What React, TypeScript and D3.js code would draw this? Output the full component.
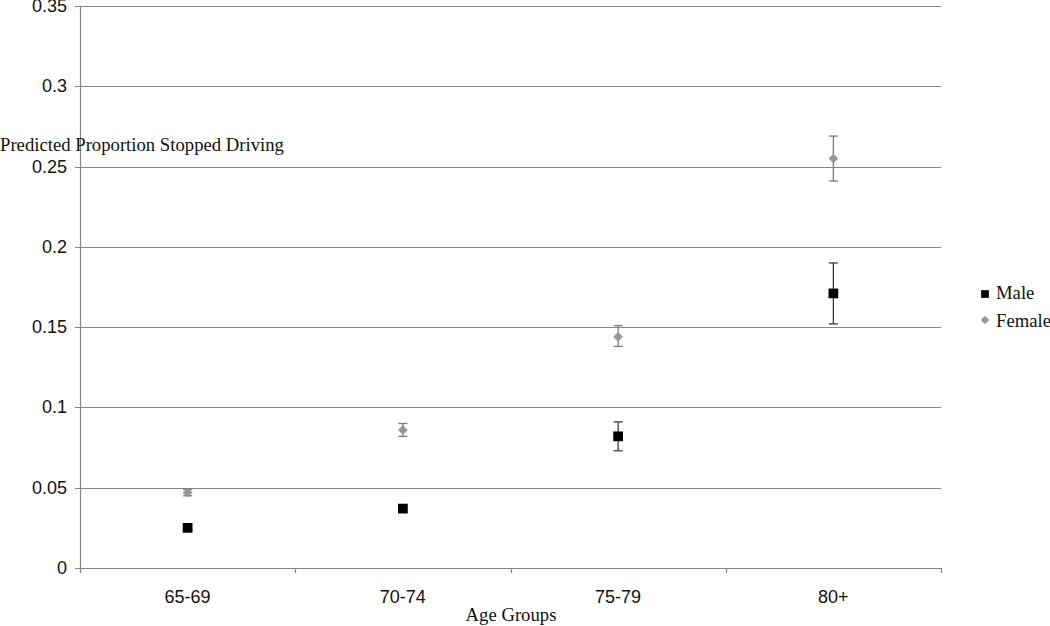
import React, { useEffect, useRef } from 'react';
import * as d3 from 'd3';

const ageGroups = ['65-69', '70-74', '75-79', '80+'];

const maleValues = [0.025, 0.037, 0.082, 0.171];
const maleLower = [0.0235, 0.035, 0.073, 0.152];
const maleUpper = [0.0265, 0.039, 0.091, 0.19];

const femaleValues = [0.047, 0.086, 0.144, 0.255];
const femaleLower = [0.045, 0.082, 0.138, 0.241];
const femaleUpper = [0.049, 0.09, 0.151, 0.269];

const yTicks = [0, 0.05, 0.1, 0.15, 0.2, 0.25, 0.3, 0.35];

const App: React.FC = () => {
  const svgRef = useRef<SVGSVGElement>(null);

  useEffect(() => {
    if (!svgRef.current) return;
    const svg = d3.select(svgRef.current);
    svg.selectAll('*').remove();

    const left = 80;
    const right = 941;
    const top = 6;
    const bottom = 568;

    const x = d3.scaleBand<string>().domain(ageGroups).range([left, right]);
    const y = d3.scaleLinear().domain([0, 0.35]).range([bottom, top]);

    const sans = 'Liberation Sans, Arial, sans-serif';
    const serif = 'Liberation Serif, Times New Roman, serif';
    const gridColor = '#858585';

    // Gridlines + y ticks
    svg.append('g')
      .selectAll('line')
      .data(yTicks)
      .join('line')
      .attr('x1', left - 5)
      .attr('x2', right)
      .attr('y1', d => Math.round(y(d)) + 0.5)
      .attr('y2', d => Math.round(y(d)) + 0.5)
      .attr('stroke', gridColor)
      .attr('stroke-width', 1.2);

    svg.append('g')
      .selectAll('text')
      .data(yTicks)
      .join('text')
      .attr('x', left - 13)
      .attr('y', d => y(d) + 6)
      .attr('text-anchor', 'end')
      .attr('font-family', sans)
      .attr('font-size', 18)
      .attr('fill', '#111')
      .text(d => String(d));

    // Y axis line
    svg.append('line')
      .attr('x1', left + 0.5).attr('x2', left + 0.5)
      .attr('y1', top).attr('y2', bottom + 5)
      .attr('stroke', gridColor)
      .attr('stroke-width', 1.2);

    // X ticks at band boundaries
    const boundaries = ageGroups.map(g => x(g) as number).concat([right]);
    svg.append('g')
      .selectAll('line')
      .data(boundaries)
      .join('line')
      .attr('x1', d => Math.round(d) + 0.5)
      .attr('x2', d => Math.round(d) + 0.5)
      .attr('y1', bottom)
      .attr('y2', bottom + 5)
      .attr('stroke', gridColor)
      .attr('stroke-width', 1.2);

    svg.append('g')
      .selectAll('text')
      .data(ageGroups)
      .join('text')
      .attr('x', d => (x(d) as number) + x.bandwidth() / 2)
      .attr('y', 603)
      .attr('text-anchor', 'middle')
      .attr('font-family', sans)
      .attr('font-size', 18)
      .attr('fill', '#111')
      .text(d => d);

    // Titles
    svg.append('text')
      .attr('x', 0)
      .attr('y', 151)
      .attr('font-family', serif)
      .attr('font-size', 18.7)
      .attr('fill', '#111')
      .text('Predicted Proportion Stopped Driving');

    svg.append('text')
      .attr('x', 511)
      .attr('y', 621)
      .attr('text-anchor', 'middle')
      .attr('font-family', serif)
      .attr('font-size', 18.7)
      .attr('fill', '#111')
      .text('Age Groups');

    const cx = (i: number) => (x(ageGroups[i]) as number) + x.bandwidth() / 2;

    const drawErrors = (lo: number[], hi: number[], color: string) => {
      const g = svg.append('g').attr('stroke', color).attr('stroke-width', 1.3).attr('fill', 'none');
      lo.forEach((l, i) => {
        const c = cx(i);
        g.append('line').attr('x1', c).attr('x2', c).attr('y1', y(l)).attr('y2', y(hi[i]));
        g.append('line').attr('x1', c - 4.5).attr('x2', c + 4.5).attr('y1', y(l)).attr('y2', y(l));
        g.append('line').attr('x1', c - 4.5).attr('x2', c + 4.5).attr('y1', y(hi[i])).attr('y2', y(hi[i]));
      });
    };

    drawErrors(femaleLower, femaleUpper, '#7a7a7a');
    drawErrors(maleLower, maleUpper, '#3a3a3a');

    const diamond = d3.symbol().type(d3.symbolDiamond2).size(60);
    const square = d3.symbol().type(d3.symbolSquare).size(95);

    svg.append('g')
      .selectAll('path')
      .data(femaleValues)
      .join('path')
      .attr('d', diamond() as string)
      .attr('transform', (d, i) => `translate(${cx(i)},${y(d)})`)
      .attr('fill', '#969696');

    svg.append('g')
      .selectAll('path')
      .data(maleValues)
      .join('path')
      .attr('d', square() as string)
      .attr('transform', (d, i) => `translate(${cx(i)},${y(d)})`)
      .attr('fill', '#000');

    // Legend
    const legend = svg.append('g');
    legend.append('path')
      .attr('d', d3.symbol().type(d3.symbolSquare).size(60)() as string)
      .attr('transform', 'translate(985,294)')
      .attr('fill', '#000');
    legend.append('text')
      .attr('x', 996).attr('y', 299)
      .attr('font-family', serif).attr('font-size', 18.7).attr('fill', '#111')
      .text('Male');
    legend.append('path')
      .attr('d', d3.symbol().type(d3.symbolDiamond2).size(45)() as string)
      .attr('transform', 'translate(985,320)')
      .attr('fill', '#969696');
    legend.append('text')
      .attr('x', 996).attr('y', 327)
      .attr('font-family', serif).attr('font-size', 18.7).attr('fill', '#111')
      .text('Female');
  }, []);

  return (
    <div style={{ position: 'absolute', left: 0, top: 0 }}>
      <svg ref={svgRef} width={1050} height={626} style={{ display: 'block', background: '#fff' }} />
    </div>
  );
};

export default App;
